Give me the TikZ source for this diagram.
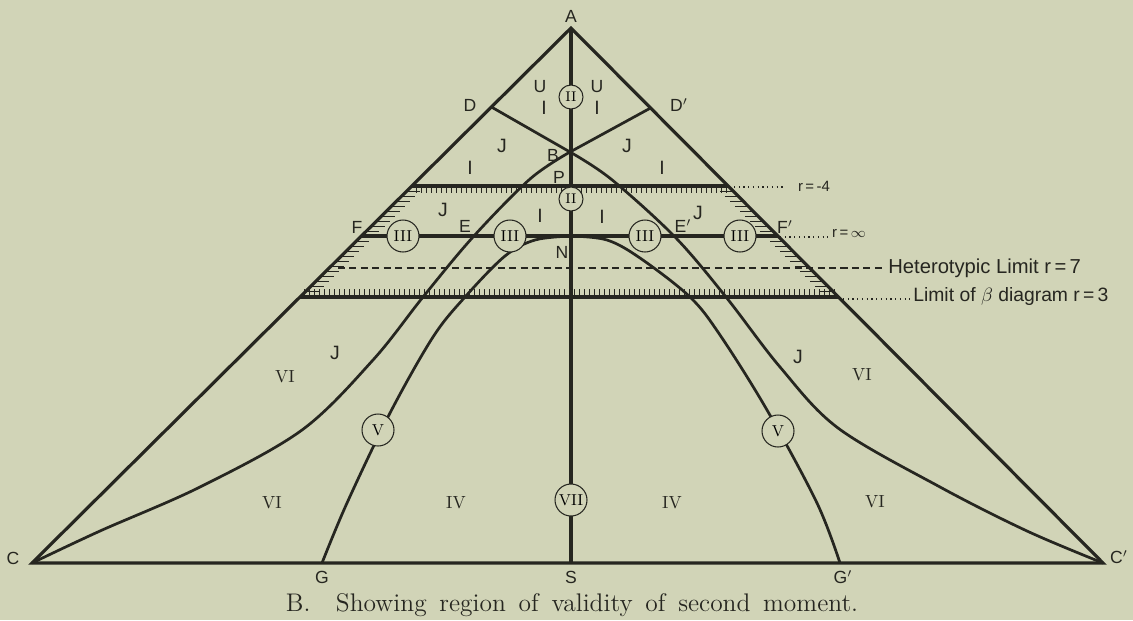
\documentclass[tikz,border=0pt]{standalone}
\usepackage{fontspec}
\newfontfamily\lettering{Liberation Sans}
\usepackage{tikz}
\usetikzlibrary{calc}
\definecolor{paper}{RGB}{209,212,183}
\definecolor{ink}{RGB}{38,38,32}

\begin{document}
\begin{tikzpicture}[x=0.02cm, y=-0.02cm,
    heavy/.style={ink, line width=1.8pt, line join=miter},
    curveline/.style={ink, line width=1.55pt},
    tick/.style={ink, line width=0.5pt},
    guide/.style={ink, line width=0.7pt, dotted},
    smallring/.style={circle, draw=ink, fill=paper, line width=0.6pt, inner sep=0pt, minimum size=0.48cm, font=\rmfamily\footnotesize},
    bigring/.style={circle, draw=ink, fill=paper, line width=0.6pt, inner sep=0pt, minimum size=0.64cm, font=\rmfamily\small},
    pt/.style={text=ink, inner sep=0pt, font=\lettering\fontsize{10}{12}\selectfont},
    zone/.style={text=ink, inner sep=0pt, font=\lettering\fontsize{11}{13}\selectfont},
    roman/.style={text=ink, inner sep=0pt, font=\rmfamily\fontsize{10}{12}\selectfont},
    note/.style={text=ink, inner sep=0pt, anchor=west, font=\lettering\fontsize{11.5}{13}\selectfont},
    rnote/.style={text=ink, inner sep=0pt, font=\lettering\fontsize{8.5}{10}\selectfont}]

    % Page
    \fill[paper] (0,0) rectangle (1133,620);
    \useasboundingbox (0,0) rectangle (1133,620);

    % Corner and axis points
    \coordinate (A) at (571,28);
    \coordinate (C) at (32,563);
    \coordinate (Cr) at (1103,563);
    \coordinate (S) at (571,563);
    \coordinate (G) at (322,563);
    \coordinate (Gr) at (840,563);
    \coordinate (B) at (570,152);
    \coordinate (N) at (571,236);
    \coordinate (E) at (473,237);
    \coordinate (Er) at (675,237);
    \coordinate (D) at ($(A)!{79/535}!(C)$);
    \coordinate (Dr) at ($(A)!{80/535}!(Cr)$);
    \coordinate (F) at ($(A)!{208/535}!(C)$);
    \coordinate (Fr) at ($(A)!{208/535}!(Cr)$);
    \coordinate (H1) at ($(A)!{158/535}!(C)$);
    \coordinate (H1r) at ($(A)!{158/535}!(Cr)$);
    \coordinate (H2) at ($(A)!{269/535}!(C)$);
    \coordinate (H2r) at ($(A)!{269/535}!(Cr)$);

    % Hatching of the band between r=-4 and r=3
    \foreach \x in {416,421,...,726}
        \draw[tick] (\x,186) -- (\x,193);
    \foreach \x in {304,309,...,836}
        \draw[tick] (\x,297) -- (\x,289);
    \foreach \y in {191,196,...,293} {
        \draw[tick] ($(A)!{(\y-28)/535}!(C)$) -- ++(13,0);
        \draw[tick] ($(A)!{(\y-28)/535}!(Cr)$) -- ++(-13,0);
    }

    % Heterotypic limit and side guides
    \draw[ink, line width=0.6pt, dash pattern=on 4pt off 2.5pt] (338,268) -- (886,268);
    \draw[guide] (734,187) -- (784,187);
    \draw[guide] (780,237) -- (828,237);
    \draw[guide] (843,299) -- (910,299);

    % Triangle and axis
    \draw[heavy] (C) -- (A) -- (Cr) -- cycle;
    \draw[heavy] (A) -- (S);
    \draw[heavy] (H1) -- (H1r);
    \draw[heavy] (H2) -- (H2r);
    \draw[heavy] (F) -- (Fr);

    % Lines through B
    \draw[curveline] (D) -- (B);
    \draw[curveline] (Dr) -- (B);
    \draw[curveline] plot[smooth, tension=0.55] coordinates {(B) (530,179) (E) (423,297) (373,360) (302,430) (200,487) (100,531) (C)};
    \draw[curveline] plot[smooth, tension=0.55] coordinates {(B) (611,179) (Er) (726,297) (780,367) (838,428) (940,487) (1027,531) (Cr)};

    % Curves from N
    \draw[curveline] plot[smooth, tension=0.55] coordinates {(N) (535,240) (505,256) (465,297) (433,337) (390,413) (347,503) (G)};
    \draw[curveline] plot[smooth, tension=0.55] coordinates {(N) (607,240) (640,258) (690,297) (720,335) (767,410) (817,503) (Gr)};

    % Circled numerals
    \node[smallring] (ring2a) at (571,97) {II};
    \node[smallring] (ring2b) at (571,199) {II};
    \node[bigring] (ring3a) at (403,236) {III};
    \node[bigring] (ring3b) at (510,236) {III};
    \node[bigring] (ring3c) at (645,236) {III};
    \node[bigring] (ring3d) at (740,236) {III};
    \node[bigring] (ring5a) at (378,430) {V};
    \node[bigring] (ring5b) at (778,431) {V};
    \node[bigring] (ring7) at (571,500) {VII};

    % Point letters
    \node[pt] (labA) at (571,16) {A};
    \node[pt] (labD) at (470,105) {D};
    \node[pt] (labDr) at (679,105) {D$'$};
    \node[pt] (labB) at (553,155) {B};
    \node[pt] (labP) at (559,177) {P};
    \node[pt] (labE) at (465,226) {E};
    \node[pt] (labEr) at (683,226) {E$'$};
    \node[pt] (labF) at (357,227) {F};
    \node[pt] (labFr) at (785,227) {F$'$};
    \node[pt] (labN) at (562,252) {N};
    \node[pt] (labC) at (13,558) {C};
    \node[pt] (labCr) at (1119,557) {C$'$};
    \node[pt] (labG) at (322,577) {G};
    \node[pt] (labS) at (571,577) {S};
    \node[pt] (labGr) at (843,577) {G$'$};

    % Region letters
    \node[pt] (u1) at (540,87) {U};
    \node[pt] (u2) at (597,87) {U};
    \node[zone] (i1) at (544,108) {I};
    \node[zone] (i2) at (597,108) {I};
    \node[zone] (j1) at (502,146) {J};
    \node[zone] (j2) at (627,146) {J};
    \node[zone] (i3) at (470,168) {I};
    \node[zone] (i4) at (662,168) {I};
    \node[zone] (j3) at (443,210) {J};
    \node[zone] (i5) at (540,216) {I};
    \node[zone] (i6) at (602,217) {I};
    \node[zone] (j4) at (698,213) {J};
    \node[zone] (j5) at (335,353) {J};
    \node[zone] (j6) at (798,357) {J};
    \node[roman] (vi1) at (285,377) {VI};
    \node[roman] (vi2) at (862,375) {VI};
    \node[roman] (vi3) at (272,503) {VI};
    \node[roman] (vi4) at (875,502) {VI};
    \node[roman] (iv1) at (456,503) {IV};
    \node[roman] (iv2) at (672,503) {IV};

    % Side notes
    \node[rnote] (rneg) at (814,186) {r\,=\,-4};
    \node[rnote] (rinf) at (849,233) {r\,=\,$\infty$};
    \node[note] (hetero) at (888,268) {Heterotypic Limit r\,=\,7};
    \node[note, font=\lettering\fontsize{11}{13}\selectfont] (betalim) at (913,296) {Limit of $\beta$ diagram r\,=\,3};

    % Caption
    \node[text=ink, font=\rmfamily\fontsize{14.5}{16}\selectfont] (caption) at (572,605) {\spaceskip=0.5em B.\ \ Showing region of validity of second moment.};
\end{tikzpicture}
\end{document}
